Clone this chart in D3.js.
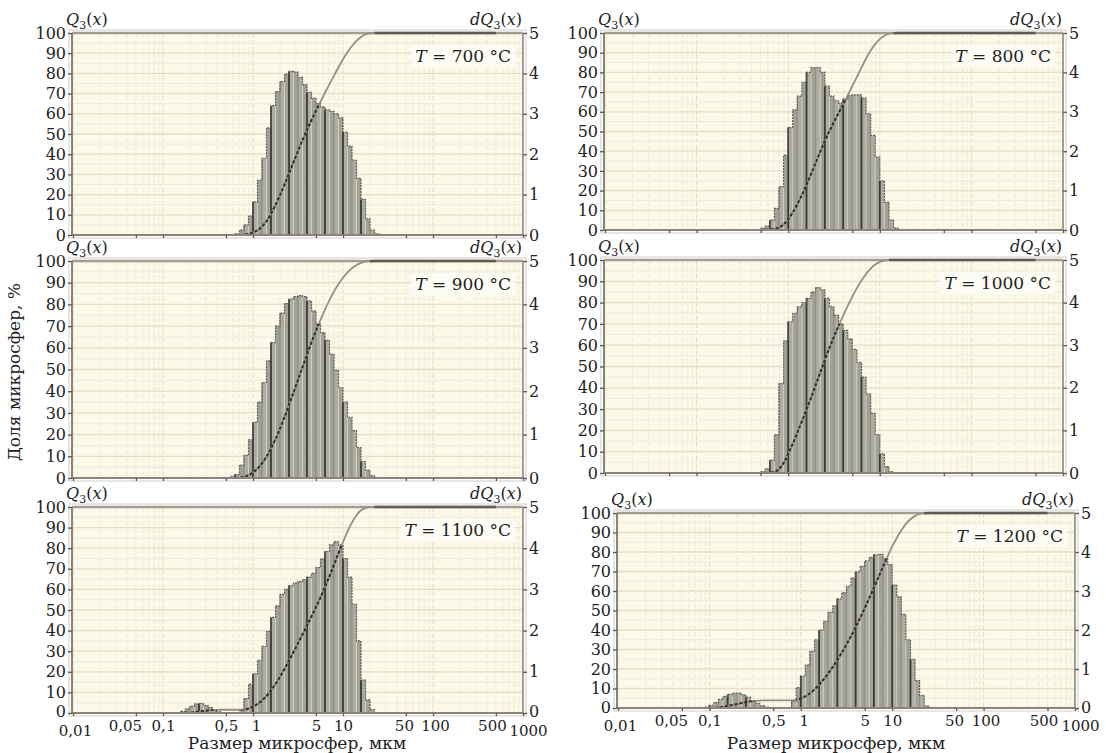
<!DOCTYPE html>
<html>
<head>
<meta charset="utf-8">
<script src="https://cdn.jsdelivr.net/npm/d3@7/dist/d3.min.js"></script>
<style>
  body { margin: 0; background: #fff; }
  svg { display: block; }
</style>
</head>
<body>
<svg id="chart" width="1106" height="753"></svg>
<script>
// size classes of the analyser: 20 per decade, first class edge at 0,01 mkm
const binsPerDecade = 20;
const sizeDomain = [0.01, 1000];

const xTickValues = [0.01, 0.05, 0.1, 0.5, 1, 5, 10, 50, 100, 500, 1000];
const xTickLabels = ['0,01', '0,05', '0,1', '0,5', '1', '5', '10', '50', '100', '500', '1000'];
const qTicks = [0, 10, 20, 30, 40, 50, 60, 70, 80, 90, 100];
const dqTicks = [0, 1, 2, 3, 4, 5];

const temps = [700, 800, 900, 1000, 1100, 1200];
// index of the first size class of every series
const firstClass = [36, 34, 35, 34, 24, 19];

// dQ3(x), % per class
const dq700 = [0.03, 0.12, 0.25, 0.47, 0.82, 1.35, 1.9, 2.65, 3.2, 3.55, 3.8, 3.98, 4.05, 4.03, 3.9, 3.72,
  3.53, 3.38, 3.25, 3.17, 3.1, 3.06, 3.0, 2.9, 2.55, 2.2, 1.85, 1.4, 0.88, 0.4, 0.12, 0.03];
const dq800 = [0.05, 0.1, 0.25, 0.55, 1.1, 1.9, 2.6, 3.05, 3.4, 3.75, 4.0, 4.12, 4.12, 4.0, 3.65, 3.4,
  3.28, 3.22, 3.32, 3.42, 3.43, 3.43, 3.35, 2.95, 2.4, 1.85, 1.25, 0.7, 0.25, 0.05];
const dq900 = [0.04, 0.08, 0.3, 0.52, 0.88, 1.28, 1.75, 2.2, 2.7, 3.12, 3.5, 3.8, 4.02, 4.12, 4.18, 4.2,
  4.18, 4.08, 3.85, 3.55, 3.35, 3.17, 2.85, 2.48, 2.08, 1.75, 1.4, 1.09, 0.7, 0.38, 0.18, 0.05];
const dq1000 = [0.03, 0.1, 0.3, 0.9, 2.1, 3.1, 3.55, 3.75, 3.9, 4.0, 4.1, 4.25, 4.35, 4.3, 4.1, 3.9,
  3.7, 3.5, 3.35, 3.15, 2.9, 2.6, 2.25, 1.85, 1.4, 0.9, 0.45, 0.15, 0.03];
const dq1100 = [0.04, 0.1, 0.16, 0.22, 0.23, 0.18, 0.13, 0.08, 0.03, 0, 0, 0, 0,
  0.08, 0.35, 0.7, 0.95, 1.28, 1.62, 1.98, 2.32, 2.6, 2.88, 3.0, 3.09, 3.15, 3.19, 3.24, 3.3,
  3.39, 3.53, 3.74, 3.92, 4.08, 4.16, 4.08, 3.75, 3.3, 2.64, 1.75, 0.8, 0.32, 0.08];
const dq1200 = [0.02, 0.07, 0.14, 0.22, 0.3, 0.35, 0.38, 0.38, 0.34, 0.27, 0.19, 0.12, 0.06, 0.02,
  0, 0, 0, 0, 0,
  0.18, 0.52, 0.82, 1.1, 1.45, 1.75, 2.0, 2.22, 2.45, 2.62, 2.8, 2.96, 3.12, 3.33, 3.49, 3.63,
  3.77, 3.86, 3.93, 3.94, 3.83, 3.68, 3.15, 2.85, 2.4, 1.75, 1.25, 0.7, 0.32, 0.05];

const dqSeries = [dq700, dq800, dq900, dq1000, dq1100, dq1200];

// plot frames
const frames = [
  { x0: 72, x1: 523, y0: 33, y1: 235 },
  { x0: 604, x1: 1063, y0: 33, y1: 230 },
  { x0: 72, x1: 523, y0: 261, y1: 478 },
  { x0: 604, x1: 1063, y0: 260, y1: 473 },
  { x0: 72, x1: 523, y0: 507, y1: 713 },
  { x0: 617, x1: 1075, y0: 513, y1: 708 }
];

// small nudges of crowded x labels
const xLabelShift = { 0.01: 2, 0.05: -11, 1: 3, 50: -2, 100: 2, 500: -4, 1000: 5 };
// the end labels drop a little below the zero labels of the y axes
const xLabelDrop = { 0.01: 5, 1000: 5 };

const serif = "'DejaVu Serif', 'Liberation Serif', serif";
const svg = d3.select('#chart');

const classEdge = k => sizeDomain[0] * Math.pow(10, k / binsPerDecade);

function drawPanel(i) {
  const f = frames[i];
  const dq = dqSeries[i];
  const first = firstClass[i];
  const isBottom = i >= 4;

  const x = d3.scaleLog().domain(sizeDomain).range([f.x0 + 1, f.x1]);
  const yQ = d3.scaleLinear().domain([0, 100]).range([f.y1, f.y0]);
  const yD = d3.scaleLinear().domain([0, 5]).range([f.y1, f.y0]);

  const g = svg.append('g');

  // shadow frame + background
  g.append('rect')
    .attr('x', f.x0 - 3).attr('y', f.y0 - 3)
    .attr('width', f.x1 - f.x0 + 6).attr('height', f.y1 - f.y0 + 6)
    .attr('fill', 'none').attr('stroke', '#e2ded6').attr('stroke-width', 1.5);
  g.append('rect')
    .attr('x', f.x0).attr('y', f.y0)
    .attr('width', f.x1 - f.x0).attr('height', f.y1 - f.y0)
    .attr('fill', '#fbf9e7');

  // grid
  const grid = g.append('g');
  grid.selectAll('line.v')
    .data(x.ticks())
    .join('line')
    .attr('x1', d => x(d)).attr('x2', d => x(d))
    .attr('y1', f.y0).attr('y2', f.y1)
    .attr('stroke', d => Math.abs(Math.log10(d) % 1) < 1e-6 ? '#e6d9c5' : '#efe7d8')
    .attr('stroke-width', 1)
    .attr('stroke-dasharray', '5,2');
  grid.selectAll('line.h')
    .data(yQ.ticks(20).filter(d => d > 0 && d < 100))
    .join('line')
    .attr('x1', f.x0).attr('x2', f.x1)
    .attr('y1', d => yQ(d)).attr('y2', d => yQ(d))
    .attr('stroke', d => d % 10 === 0 ? '#eadccb' : '#f1eadd')
    .attr('stroke-width', d => d % 10 === 0 ? 1.3 : 1);

  // histogram
  const bins = dq.map((v, j) => ({ k: first + j, lo: classEdge(first + j), hi: classEdge(first + j + 1), v }))
    .filter(d => d.v > 0);

  const stepPts = [];
  dq.forEach((v, j) => stepPts.push([classEdge(first + j), v]));
  stepPts.push([classEdge(first + dq.length), 0]);

  const area = d3.area()
    .x(d => x(d[0])).y0(f.y1).y1(d => yD(d[1]))
    .curve(d3.curveStepAfter);

  const clipId = 'bars' + i;
  g.append('clipPath').attr('id', clipId)
    .append('path').attr('d', area(stepPts));

  g.append('g').selectAll('rect')
    .data(bins)
    .join('rect')
    .attr('x', d => x(d.lo))
    .attr('y', d => yD(d.v))
    .attr('width', d => x(d.hi) - x(d.lo))
    .attr('height', d => f.y1 - yD(d.v))
    .attr('fill', d => d.k % 2 ? '#a2a196' : '#aeada2');

  g.append('g').selectAll('line')
    .data(bins)
    .join('line')
    .attr('x1', d => x(d.lo)).attr('x2', d => x(d.lo))
    .attr('y1', d => yD(d.v)).attr('y2', f.y1)
    .attr('stroke', d => d.k % 4 === 0 ? '#3a3935' : (d.k % 2 ? '#d9d8ce' : '#77766e'))
    .attr('stroke-width', d => d.k % 4 === 0 ? 1.8 : 0.7);

  g.append('path')
    .attr('d', d3.line().x(d => x(d[0])).y(d => yD(d[1])).curve(d3.curveStepAfter)(stepPts))
    .attr('fill', 'none')
    .attr('stroke', '#5f5d57')
    .attr('stroke-width', 1.2)
    .attr('stroke-dasharray', '2,1');

  // frame
  g.append('line').attr('x1', f.x0).attr('x2', f.x1).attr('y1', f.y0).attr('y2', f.y0)
    .attr('stroke', '#a59d94').attr('stroke-width', 2.5);
  g.append('line').attr('x1', f.x1).attr('x2', f.x1).attr('y1', f.y0).attr('y2', f.y1)
    .attr('stroke', '#a39c94').attr('stroke-width', 2);

  // cumulative Q3(x)
  const total = d3.sum(dq);
  const cum = Array.from(d3.cumsum(dq), c => c / total * 100);
  const qPts = [[classEdge(first), 0]]
    .concat(cum.map((c, j) => [classEdge(first + j + 1), c]))
    .concat([[500, 100]]);
  const qLine = d3.line().x(d => x(d[0])).y(d => yQ(d[1])).curve(d3.curveMonotoneX);

  g.append('path')
    .attr('d', qLine(qPts))
    .attr('fill', 'none')
    .attr('stroke', '#958f89')
    .attr('stroke-width', 1.8);
  g.append('path')
    .attr('d', qLine(qPts))
    .attr('clip-path', `url(#${clipId})`)
    .attr('fill', 'none')
    .attr('stroke', '#2f2d2a')
    .attr('stroke-width', 2)
    .attr('stroke-dasharray', '3,2');
  g.append('path')
    .attr('d', qLine(qPts.filter(d => d[1] > 99.9)))
    .attr('fill', 'none')
    .attr('stroke', '#5e5a55')
    .attr('stroke-width', 2.5);

  g.append('line').attr('x1', f.x0).attr('x2', f.x0).attr('y1', f.y0).attr('y2', f.y1)
    .attr('stroke', '#8b847c').attr('stroke-width', 2);
  g.append('line').attr('x1', f.x0).attr('x2', f.x1).attr('y1', f.y1).attr('y2', f.y1)
    .attr('stroke', '#8b847c').attr('stroke-width', 2);

  // axes
  const styleAxis = sel => {
    sel.attr('font-family', serif).attr('font-size', 16);
    sel.select('.domain').remove();
    sel.selectAll('.tick line').attr('stroke', '#5a5650').attr('stroke-width', 1.3);
    sel.selectAll('.tick text').attr('fill', '#222');
  };

  const leftAxis = g.append('g')
    .attr('transform', `translate(${f.x0},0)`)
    .call(d3.axisLeft(yQ).tickValues(qTicks).tickSize(4).tickPadding(2))
    .call(styleAxis);

  const rightAxis = g.append('g')
    .attr('transform', `translate(${f.x1},0)`)
    .call(d3.axisRight(yD).tickValues(dqTicks).tickSize(4).tickPadding(2).tickFormat(d3.format('d')))
    .call(styleAxis);

  if (isBottom) {
    // the zero labels sit a little higher, above the size labels
    const lift = i === 4 ? -1.5 : -0.5;
    leftAxis.selectAll('.tick text').filter(d => d === 0).attr('y', lift);
    rightAxis.selectAll('.tick text').filter(d => d === 0).attr('y', lift);
  }

  const bottomAxis = g.append('g')
    .attr('transform', `translate(0,${f.y1})`)
    .call(d3.axisBottom(x).tickValues(xTickValues).tickSize(3).tickPadding(4)
      .tickFormat((d, j) => isBottom ? xTickLabels[j] : ''))
    .call(styleAxis);
  bottomAxis.attr('font-size', 15);
  bottomAxis.selectAll('.tick text')
    .attr('dx', d => xLabelShift[d] || 0)
    .attr('y', d => 7 + (xLabelDrop[d] || 0));

  // axis captions
  const q3 = g.append('text')
    .attr('x', f.x0 - 6).attr('y', f.y0 - 8)
    .attr('font-family', serif).attr('font-size', 16).attr('fill', '#222');
  q3.append('tspan').attr('font-style', 'italic').text('Q');
  q3.append('tspan').attr('font-size', 11).attr('dy', 4).text('3');
  q3.append('tspan').attr('dy', -4).text('(');
  q3.append('tspan').attr('font-style', 'italic').text('x');
  q3.append('tspan').text(')');

  const dq3 = g.append('text')
    .attr('x', f.x1 - 1).attr('y', f.y0 - 8)
    .attr('text-anchor', 'end')
    .attr('font-family', serif).attr('font-size', 16).attr('fill', '#222');
  dq3.append('tspan').attr('font-style', 'italic').text('dQ');
  dq3.append('tspan').attr('font-size', 11).attr('dy', 4).text('3');
  dq3.append('tspan').attr('dy', -4).text('(');
  dq3.append('tspan').attr('font-style', 'italic').text('x');
  dq3.append('tspan').text(')');

  // temperature label
  const tg = g.append('g');
  const tBox = tg.append('rect').attr('fill', '#fdfcf4');
  const tText = tg.append('text')
    .attr('x', f.x1 - 12).attr('y', f.y0 + 29)
    .attr('text-anchor', 'end')
    .attr('font-family', serif).attr('font-size', 17).attr('fill', '#222');
  tText.append('tspan').attr('font-style', 'italic').text('T');
  tText.append('tspan').text(` = ${temps[i]} °C`);
  const bb = tText.node().getBBox();
  tBox.attr('x', bb.x - 4).attr('y', bb.y - 1).attr('width', bb.width + 8).attr('height', bb.height + 2);

  if (isBottom) {
    g.append('text')
      .attr('x', i === 4 ? 297 : 836).attr('y', 749)
      .attr('text-anchor', 'middle')
      .attr('font-family', serif).attr('font-size', 17).attr('fill', '#222')
      .text('Размер микросфер, мкм');
  }
}

temps.forEach((t, i) => drawPanel(i));

svg.append('text')
  .attr('transform', 'translate(20,372) rotate(-90)')
  .attr('text-anchor', 'middle')
  .attr('font-family', serif).attr('font-size', 17).attr('fill', '#222')
  .text('Доля микросфер, %');
</script>
</body>
</html>
